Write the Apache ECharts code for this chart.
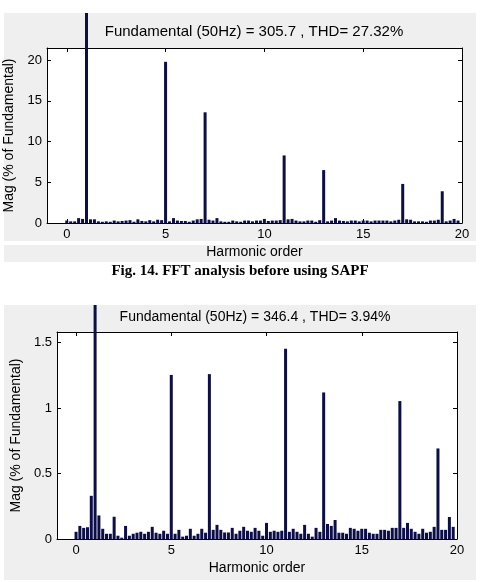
<!DOCTYPE html>
<html>
<head>
<meta charset="utf-8">
<script src="https://cdn.jsdelivr.net/npm/echarts@6/dist/echarts.min.js"></script>
<style>
  html, body { margin: 0; padding: 0; background: #ffffff; }
  #chart { width: 482px; height: 582px; }
</style>
</head>
<body>
<div id="chart"></div>
<script>
// harmonic order of each FFT bin (10 Hz steps on a 50 Hz fundamental)
const harmonicOrders = [
    0, 0.2, 0.4, 0.6, 0.8, 1, 1.2, 1.4, 1.6, 1.8,
    2, 2.2, 2.4, 2.6, 2.8, 3, 3.2, 3.4, 3.6, 3.8,
    4, 4.2, 4.4, 4.6, 4.8, 5, 5.2, 5.4, 5.6, 5.8,
    6, 6.2, 6.4, 6.6, 6.8, 7, 7.2, 7.4, 7.6, 7.8,
    8, 8.2, 8.4, 8.6, 8.8, 9, 9.2, 9.4, 9.6, 9.8,
    10, 10.2, 10.4, 10.6, 10.8, 11, 11.2, 11.4, 11.6, 11.8,
    12, 12.2, 12.4, 12.6, 12.8, 13, 13.2, 13.4, 13.6, 13.8,
    14, 14.2, 14.4, 14.6, 14.8, 15, 15.2, 15.4, 15.6, 15.8,
    16, 16.2, 16.4, 16.6, 16.8, 17, 17.2, 17.4, 17.6, 17.8,
    18, 18.2, 18.4, 18.6, 18.8, 19, 19.2, 19.4, 19.6, 19.8
];

// Mag (% of fundamental) before SAPF
const magBefore = [
    0.3, 0.2, 0.2, 0.6, 0.5, 100, 0.45, 0.45, 0.2, 0.15,
    0.2, 0.15, 0.3, 0.2, 0.25, 0.3, 0.35, 0.15, 0.45, 0.25,
    0.2, 0.35, 0.2, 0.4, 0.35, 19.8, 0.2, 0.6, 0.3, 0.25,
    0.25, 0.15, 0.3, 0.45, 0.5, 13.6, 0.4, 0.3, 0.6, 0.2,
    0.15, 0.15, 0.3, 0.2, 0.15, 0.3, 0.3, 0.2, 0.3, 0.3,
    0.5, 0.25, 0.3, 0.3, 0.35, 8.3, 0.45, 0.5, 0.3, 0.2,
    0.2, 0.3, 0.3, 0.15, 0.35, 6.5, 0.2, 0.3, 0.6, 0.3,
    0.25, 0.2, 0.3, 0.3, 0.2, 0.3, 0.3, 0.2, 0.3, 0.3,
    0.3, 0.3, 0.2, 0.3, 0.4, 4.8, 0.45, 0.4, 0.2, 0.2,
    0.2, 0.15, 0.3, 0.3, 0.4, 3.9, 0.2, 0.3, 0.5, 0.3
];

// Mag (% of fundamental) after SAPF
const magAfter = [
    0.055, 0.1, 0.085, 0.09, 0.33, 100, 0.18, 0.078, 0.04, 0.04,
    0.17, 0.025, 0.01, 0.1, 0.025, 0.04, 0.048, 0.055, 0.04, 0.055,
    0.093, 0.048, 0.04, 0.063, 0.04, 1.254, 0.04, 0.07, 0.018, 0.025,
    0.078, 0.025, 0.04, 0.078, 0.048, 1.26, 0.07, 0.108, 0.07, 0.05,
    0.05, 0.085, 0.04, 0.063, 0.093, 0.063, 0.055, 0.085, 0.063, 0.025,
    0.123, 0.055, 0.063, 0.055, 0.063, 1.454, 0.055, 0.078, 0.055, 0.04,
    0.108, 0.04, 0.018, 0.085, 0.055, 1.12, 0.115, 0.1, 0.145, 0.048,
    0.048, 0.04, 0.085, 0.078, 0.063, 0.078, 0.078, 0.048, 0.04, 0.04,
    0.07, 0.07, 0.063, 0.085, 0.085, 1.054, 0.085, 0.123, 0.078, 0.055,
    0.04, 0.078, 0.048, 0.055, 0.093, 0.692, 0.07, 0.07, 0.168, 0.093
];

const xTicks = [0, 5, 10, 15, 20];
const yTicksBefore = [0, 5, 10, 15, 20];
const yTicksAfter = [0, 0.5, 1, 1.5];

const titleBefore = "Fundamental (50Hz) = 305.7 , THD= 27.32%";
const titleAfter = "Fundamental (50Hz) = 346.4 , THD= 3.94%";
const captionBefore = "Fig. 14. FFT analysis before using SAPF";
const xName = "Harmonic order";
const yName = "Mag (% of Fundamental)";

const font = "Liberation Sans, Arial, sans-serif";
const barColor = "#0d0d48";

// plot boxes (pixels) and the figure tops the fundamental bar runs up to
const boxes = [
    { left: 47, right: 462, top: 48, bottom: 223, figTop: 13, yMax: 21.5, yTicks: yTicksBefore, data: magBefore, nameGap: 28 },
    { left: 57, right: 457, top: 332, bottom: 539, figTop: 305, yMax: 1.582, yTicks: yTicksAfter, data: magAfter, nameGap: 31 }
];

const grids = [];
const xAxes = [];
const yAxes = [];
const series = [];

boxes.forEach((b, i) => {
    const width = b.right - b.left;
    grids.push({
        left: b.left, top: b.top, width: width, height: b.bottom - b.top,
        show: true, backgroundColor: '#ffffff', borderWidth: 0,
        outerBoundsMode: 'none'
    });
    grids.push({
        left: b.left, top: b.figTop, width: width, height: b.bottom - b.figTop,
        outerBoundsMode: 'none'
    });
    const g = i * 2;
    const lineStyle = { color: '#000000', width: 1 };

    // bottom axis with labels
    xAxes.push({
        type: 'value', gridIndex: g, position: 'bottom', min: -1, max: 20,
        name: xName, nameLocation: 'middle', nameGap: 22,
        nameTextStyle: { color: '#000', fontFamily: font, fontSize: 14 },
        axisLine: { show: true, onZero: false, lineStyle: lineStyle },
        axisTick: { show: true, inside: true, length: 4, customValues: xTicks, lineStyle: lineStyle },
        axisLabel: { show: true, margin: 5, customValues: xTicks, color: '#000', fontFamily: font, fontSize: 13 },
        splitLine: { show: false }
    });
    // top box edge
    xAxes.push({
        type: 'value', gridIndex: g, position: 'top', min: -1, max: 20,
        axisLine: { show: true, onZero: false, lineStyle: lineStyle },
        axisTick: { show: true, inside: true, length: 4, customValues: xTicks, lineStyle: lineStyle },
        axisLabel: { show: false },
        splitLine: { show: false }
    });
    // hidden axis for the bars
    xAxes.push({ type: 'value', gridIndex: g + 1, min: -1, max: 20, show: false, splitLine: { show: false } });

    yAxes.push({
        type: 'value', gridIndex: g, position: 'left', min: 0, max: b.yMax,
        name: yName, nameLocation: 'middle', nameGap: b.nameGap, nameRotate: 90,
        nameTextStyle: { color: '#000', fontFamily: font, fontSize: 14 },
        axisLine: { show: true, onZero: false, lineStyle: lineStyle },
        axisTick: { show: true, inside: true, length: 4, customValues: b.yTicks, lineStyle: lineStyle },
        axisLabel: { show: true, margin: 5, customValues: b.yTicks, color: '#000', fontFamily: font, fontSize: 13 },
        splitLine: { show: false }
    });
    yAxes.push({
        type: 'value', gridIndex: g, position: 'right', min: 0, max: b.yMax,
        axisLine: { show: true, onZero: false, lineStyle: lineStyle },
        axisTick: { show: true, inside: true, length: 4, customValues: b.yTicks, lineStyle: lineStyle },
        axisLabel: { show: false },
        splitLine: { show: false }
    });
    // same scale as the plot, but stretched up to the top of the figure
    const yMaxExt = b.yMax * (b.bottom - b.figTop) / (b.bottom - b.top);
    yAxes.push({ type: 'value', gridIndex: g + 1, min: 0, max: yMaxExt, show: false, splitLine: { show: false } });

    series.push({
        type: 'bar',
        xAxisIndex: i * 3 + 2,
        yAxisIndex: i * 3 + 2,
        barWidth: 3,
        itemStyle: { color: barColor },
        data: harmonicOrders.map((h, k) => [h, b.data[k]]),
        silent: true,
        z: 5
    });
});

const chart = echarts.init(document.getElementById('chart'));
chart.setOption({
    animation: false,
    backgroundColor: '#ffffff',
    grid: grids,
    xAxis: xAxes,
    yAxis: yAxes,
    series: series,
    graphic: [
        { type: 'rect', z: -10, shape: { x: 4, y: 13, width: 472, height: 228 }, style: { fill: '#efefef' } },
        { type: 'rect', z: -10, shape: { x: 4, y: 245, width: 472, height: 17 }, style: { fill: '#efefef' } },
        { type: 'rect', z: -10, shape: { x: 4, y: 305, width: 472, height: 275 }, style: { fill: '#efefef' } },
        { type: 'text', z: 10, x: 254, y: 32, style: { text: titleBefore, fill: '#000', font: '15px ' + font, textAlign: 'center', textVerticalAlign: 'middle' } },
        { type: 'text', z: 10, x: 255, y: 317, style: { text: titleAfter, fill: '#000', font: '14px ' + font, textAlign: 'center', textVerticalAlign: 'middle' } },
        { type: 'text', z: 10, x: 240, y: 271, style: { text: captionBefore, fill: '#000', font: 'bold 15px Liberation Serif, Times New Roman, serif', textAlign: 'center', textVerticalAlign: 'middle' } }
    ]
});
</script>
</body>
</html>
